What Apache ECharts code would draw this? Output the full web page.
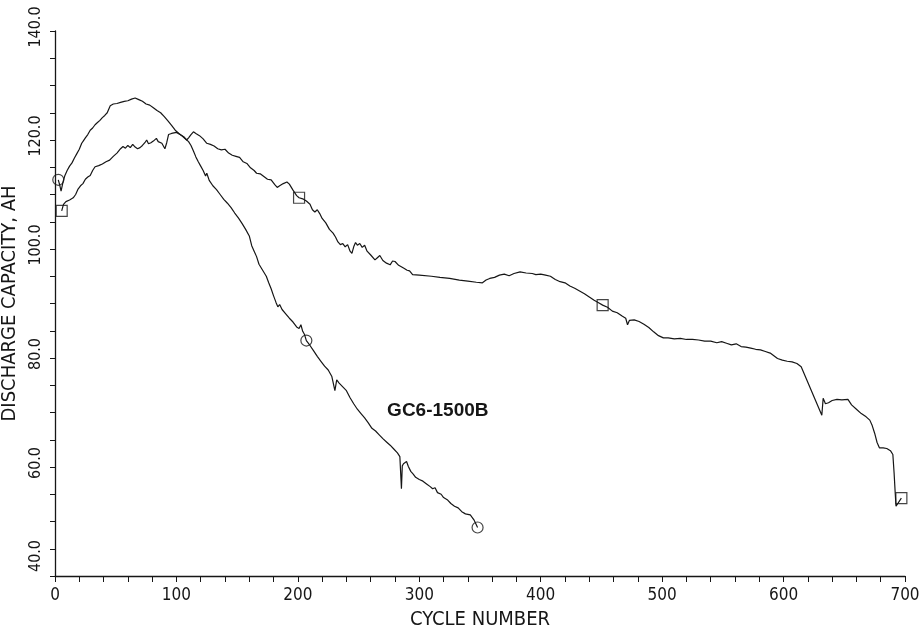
<!DOCTYPE html>
<html>
<head>
<meta charset="utf-8">
<script src="https://cdn.jsdelivr.net/npm/echarts@6/dist/echarts.min.js"></script>
<style>
html,body{margin:0;padding:0;background:#fff;}
#chart{width:924px;height:634px;}
</style>
</head>
<body>
<div id="chart"></div>
<script>
// Cell 1 (circle markers) : cycle number, discharge capacity (AH)
const cellACycles = [2.7,3.8,5,6.5,8,10,12,14,16,18,20,22,23.5,25,27,29,31,33,35,37,39,41,43,44.5,45.5,48,51,54,57,60,63,66,69,72,75,78,81,84,87,90,93,96,99,102,105,108,110,112,114,116,118,120,122,124,125,127,130,133,136,139,142,145,148,151,154,157,160,162,164,166,168,171,174,176,178,180,182,183.5,185,187,190,193,196,199,201,202.5,204,205.5,207,210,213,216,219,222,225,228,230.5,232,234,237,240,243,246,249,252,255,258,261,264,267,270,273,276,279,282,284,285.3,286,287,289.5,291,293,295,297,300,303,306,309,311,313,315,318,320,323,326,329,332,335,338,342,345,348];
const cellACap = [112.7,111.8,110.6,112.2,113.4,114.4,115.2,115.8,116.7,117.5,118.3,119.4,119.9,120.4,121,121.8,122.2,122.8,123.2,123.6,124.1,124.5,125,125.3,126.3,126.6,126.7,126.9,127.1,127.2,127.5,127.7,127.4,127.1,126.6,126.4,125.9,125.4,125,124.3,123.5,122.7,121.8,121.2,120.7,120.1,119.7,119,118,116.9,116,115.2,114.4,113.4,113.9,112.6,111.6,110.9,110,109.1,108.4,107.6,106.6,105.7,104.7,103.6,102.4,100.6,99.6,98.6,97.2,96.1,95,93.8,92.7,91.4,90.2,89.4,89.8,88.9,88.1,87.3,86.6,85.7,85.4,86.1,84.9,84.3,83.2,82.3,81.3,80.3,79.4,78.5,77.8,76.6,74,76,75.4,74.7,74,72.7,71.6,70.6,69.8,69,68.1,67.1,66.6,65.9,65.2,64.6,64,63.3,62.6,61.9,56,60.2,60.6,61,60.1,59.2,58.7,58.1,57.7,57.4,56.9,56.4,56,56.2,55.3,55,54.4,54,53.3,52.8,52.5,51.8,51.4,51.2,50.3,48.9];
const cellAMarkCycles = [2.7,207,348];
const cellAMarkCap = [112.7,83.2,48.9];

// Cell 2 (square markers)
const cellBCycles = [5.5,7,9,12,15,17,19,21,23,25,27,29,31,33,36,39,42,45,48,51,54,56,58,60,62,64,66,68,70,72,74,75.5,77,79,81,83.5,85,88,90.5,92,93.5,96,100,103,106,108.4,110,112,114,116,119,122,125,128,131,134,137,140,143,146,149,152,155,158,161,164,166,169,172,175,178,181,183,185,188,191,193,196,199,201,204,207,210,212,214,216,218,220,223,226,229,231,233,235,237,239,241,243,244.5,246,247.5,249,251,253,255,257,260,263.5,265.5,267.5,270,273,276,278,280,283,287,290,292,294.5,300,310,317,325,333,340,347,352,355,358,362,366,370,374,378,383,388,393,396,400,404,408,412,416,420,424,428,432,436,440,444,448,451,455,459,463,467,470,471.5,473,477,481,485,489,493,497,501,505,510,515,520,525,530,535,540,545,549,553,557,561,565,569,573,577,581,585,589,592,595,599,603,607,611,614.5,631.5,632.6,634.5,637,640,644,648,653,656,660,664,668,671,673,675,677,679,682,685,688,690,691,692,692.6,697];
const cellBCap = [107,108.2,108.7,109,109.4,110,111,111.6,112,112.8,113.2,113.5,114.4,115.1,115.3,115.6,116,116.3,117,117.6,118.4,118.8,118.5,119,118.6,119.2,118.7,118.4,118.6,119,119.5,120,119.3,119.5,119.8,120.3,119.7,119.4,118.4,119.5,121,121.2,121.4,121,120.6,120,120.4,121,121.5,121.2,120.8,120.2,119.4,119.2,118.9,118.4,118.2,118.3,117.6,117.2,117,116.8,116,115.7,114.9,114.4,113.9,113.8,113.3,112.8,112.7,111.8,111.3,111.6,112,112.3,111.9,110.8,109.8,109.4,109.2,108.8,108.2,107.2,106.8,107.2,106.5,105.6,104.8,103.6,102.9,102.2,101.3,100.8,101,100.4,100.8,99.6,99.2,100.4,101.2,100.7,101,100.3,100.7,99.6,98.9,98,98.4,98.8,97.9,97.4,97.1,97.8,97.7,97,96.5,96.1,96,95.3,95.2,95,94.8,94.6,94.3,94.1,93.9,93.8,94.3,94.6,94.8,95.2,95.4,95.1,95.5,95.8,95.6,95.5,95.3,95.4,95.2,95,94.4,94,93.8,93.2,92.8,92.3,91.8,91.2,90.6,90.1,89.7,89.3,88.6,88.3,87.7,87.3,86.1,86.9,87,86.7,86.2,85.6,84.8,84.1,83.7,83.7,83.5,83.6,83.4,83.4,83.3,83.1,83.1,82.8,83,82.7,82.4,82.6,82.1,82,81.8,81.6,81.5,81.2,80.9,80.4,79.9,79.6,79.4,79.3,79,78.4,69.5,72.6,71.6,71.8,72.2,72.4,72.3,72.4,71.4,70.6,69.8,69.2,68.6,67.6,66.2,64.5,63.5,63.5,63.4,63,62.3,59,55,52.8,54.3];
const cellBMarkCycles = [5.5,201,451,697];
const cellBMarkCap = [107,109.4,89.7,54.3];

// Axis ticks
const xTicks = [0,100,200,300,400,500,600,700];
const yTicks = [40,60,80,100,120,140];
const cellLabel = 'GC6-1500B';
const cellLabelAt = [273.5, 70.3];

const zip = (a, b) => a.map((v, i) => [v, b[i]]);
const ink = '#161616';
const tickFont = "'Liberation Sans Narrow','DejaVu Sans Condensed','Liberation Sans',sans-serif";

const chart = echarts.init(document.getElementById('chart'), null, {renderer: 'canvas'});
chart.setOption({
  backgroundColor: '#ffffff',
  animation: false,
  grid: {left: 55, right: 19, top: 31, bottom: 58, containLabel: false, outerBoundsMode: 'none'},
  xAxis: {
    type: 'value', min: xTicks[0], max: xTicks[xTicks.length - 1], interval: 100,
    name: 'CYCLE NUMBER', nameLocation: 'middle', nameGap: 34,
    nameTextStyle: {fontFamily: tickFont, fontSize: 20, color: ink},
    axisLine: {show: true, onZero: false, lineStyle: {color: ink, width: 1.3}},
    axisTick: {show: true, inside: false, length: 6, lineStyle: {color: ink, width: 1}},
    minorTick: {show: true, splitNumber: 5, length: 6, lineStyle: {color: ink, width: 1}},
    axisLabel: {margin: 11, fontFamily: tickFont, fontSize: 17, color: ink},
    splitLine: {show: false}, minorSplitLine: {show: false}
  },
  yAxis: {
    type: 'value', min: yTicks[0], max: yTicks[yTicks.length - 1], interval: 20,
    name: 'DISCHARGE CAPACITY, AH', nameLocation: 'middle', nameGap: 32,
    nameTextStyle: {fontFamily: tickFont, fontSize: 20, color: ink},
    axisLine: {show: true, onZero: false, lineStyle: {color: ink, width: 1.3}},
    axisTick: {show: true, inside: false, length: 5, lineStyle: {color: ink, width: 1}},
    minorTick: {show: true, splitNumber: 4, length: 5, lineStyle: {color: ink, width: 1}},
    axisLabel: {
      rotate: 90, margin: 11, fontFamily: tickFont, fontSize: 16, color: ink,
      formatter: v => (v === yTicks[0] ? '{m|' : '{n|') + v.toFixed(1) + '}',
      rich: {
        n: {fontFamily: tickFont, fontSize: 16, color: ink, padding: [0, 0, 0, 8]},
        m: {fontFamily: tickFont, fontSize: 16, color: ink, padding: [0, 0, 0, 40]}
      }
    },
    splitLine: {show: false}, minorSplitLine: {show: false}
  },
  series: [
    {
      type: 'line', data: zip(cellACycles, cellACap), showSymbol: false, symbol: 'none',
      lineStyle: {color: ink, width: 1.2}, z: 3,
      markPoint: {
        symbol: 'circle', symbolSize: 0,
        data: [{coord: cellLabelAt, value: cellLabel}],
        label: {show: true, position: 'right', distance: 0, formatter: cellLabel,
          fontFamily: "'Liberation Sans','Arial',sans-serif", fontWeight: 'bold', fontSize: 19, color: ink}
      }
    },
    {
      type: 'line', data: zip(cellBCycles, cellBCap), showSymbol: false, symbol: 'none',
      lineStyle: {color: ink, width: 1.2}, z: 3
    },
    {
      type: 'scatter', data: zip(cellAMarkCycles, cellAMarkCap), symbol: 'circle', symbolSize: 11,
      itemStyle: {color: 'rgba(0,0,0,0)', borderColor: ink, borderWidth: 1.2}, z: 4
    },
    {
      type: 'scatter', data: zip(cellBMarkCycles, cellBMarkCap), symbol: 'rect', symbolSize: 11,
      itemStyle: {color: 'rgba(0,0,0,0)', borderColor: ink, borderWidth: 1.2}, z: 4
    }
  ]
});
</script>
</body>
</html>
